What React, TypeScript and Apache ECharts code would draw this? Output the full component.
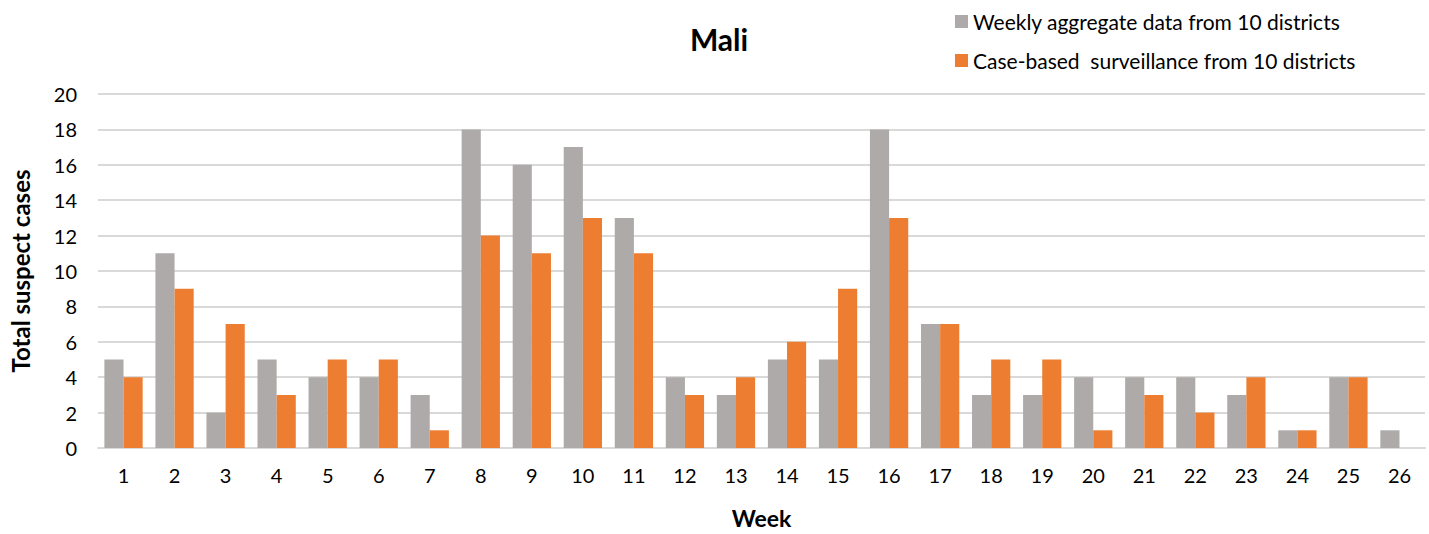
import React, { useEffect, useRef } from "react";
import * as echarts from "echarts";

const weeks = Array.from({ length: 26 }, (_, i) => String(i + 1));
const weeklyAggregate = [5, 11, 2, 5, 4, 4, 3, 18, 16, 17, 13, 4, 3, 5, 5, 18, 7, 3, 3, 4, 4, 4, 3, 1, 4, 1];
const caseBased = [4, 9, 7, 3, 5, 5, 1, 12, 11, 13, 11, 3, 4, 6, 9, 13, 7, 5, 5, 1, 3, 2, 4, 1, 4, null];
const seriesNames = ["Weekly aggregate data from 10 districts", "Case-based  surveillance from 10 districts"];

const FONT = "Lato, 'Open Sans', sans-serif";

export default function App() {
  const ref = useRef<HTMLDivElement>(null);
  useEffect(() => {
    const chart = echarts.init(ref.current!, null, { renderer: "svg" });
    chart.setOption({
      animation: false,
      textStyle: { fontFamily: FONT },
      title: {
        text: "Mali",
        left: 714,
        top: 19,
        textAlign: "center",
        textStyle: { fontFamily: FONT, fontSize: 30, fontWeight: "bold", color: "#000" },
      },
      legend: {
        orient: "vertical",
        left: 950,
        top: 6,
        itemWidth: 13,
        itemHeight: 13,
        itemGap: 18,
        icon: "rect",
        textStyle: { fontFamily: FONT, fontSize: 21, color: "#000" },
        data: seriesNames,
      },
      grid: { left: 93, right: 4, top: 94, bottom: 81, containLabel: false },
      xAxis: {
        type: "category",
        data: weeks,
        name: "Week",
        nameLocation: "middle",
        nameGap: 58,
        nameTextStyle: { fontFamily: FONT, fontSize: 23, fontWeight: "bold", color: "#000" },
        axisLine: { lineStyle: { color: "#D9D9D9", width: 2 } },
        axisTick: { show: false },
        axisLabel: { fontFamily: FONT, fontSize: 20, color: "#000", margin: 17 },
      },
      yAxis: {
        type: "value",
        min: 0,
        max: 20,
        interval: 2,
        name: "Total suspect cases",
        nameLocation: "middle",
        nameGap: 66,
        nameTextStyle: { fontFamily: FONT, fontSize: 24, fontWeight: "bold", color: "#000" },
        axisLine: { show: false },
        axisTick: { show: false },
        axisLabel: { fontFamily: FONT, fontSize: 20, color: "#000", margin: 21 },
        splitLine: { lineStyle: { color: "#D9D9D9", width: 2 } },
      },
      series: [
        {
          name: seriesNames[0],
          type: "bar",
          data: weeklyAggregate,
          itemStyle: { color: "#AEAAAA" },
          barGap: "0%",
          barCategoryGap: "25%",
        },
        {
          name: seriesNames[1],
          type: "bar",
          data: caseBased,
          itemStyle: { color: "#ED7D31" },
          barGap: "0%",
          barCategoryGap: "25%",
        },
      ],
    });
    return () => chart.dispose();
  }, []);
  return (
    <div
      ref={ref}
      style={{ position: "absolute", left: 0, top: 0, width: 1429, height: 534 }}
    />
  );
}
